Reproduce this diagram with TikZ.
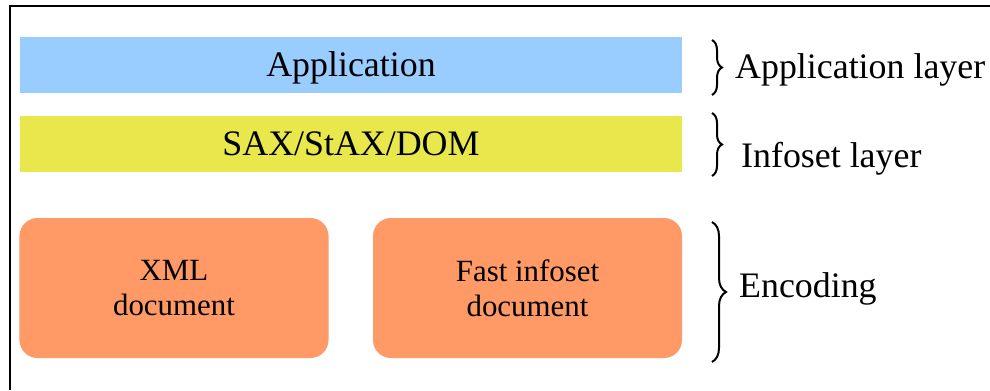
\documentclass[tikz,border=0pt]{standalone}
\usepackage{fontspec}
\newfontfamily\diagfont{Liberation Serif}
\usetikzlibrary{decorations.pathreplacing}

\definecolor{appblue}{HTML}{99CCFF}
\definecolor{infoyellow}{HTML}{E8E84C}
\definecolor{encorange}{HTML}{FF9966}

\tikzset{
  layerbar/.style={draw=none, inner sep=0pt, minimum width=662bp, minimum height=56bp,
    font=\fontsize{36}{40}\diagfont, text height=23bp, text depth=0pt},
  encbox/.style={draw=none, fill=encorange, rounded corners=18bp, inner sep=0pt,
    minimum width=309bp, minimum height=140bp, align=center,
    font=\fontsize{31}{35}\diagfont},
  layerlabel/.style={anchor=base west, inner sep=0pt, font=\fontsize{36}{40}\diagfont},
  layerbrace/.style={draw, line width=2bp, decorate, decoration={brace, amplitude=#1}},
}

\begin{document}
\begin{tikzpicture}[x=1bp, y=-1bp]
  \useasboundingbox (0,0) rectangle (990,390);

  % frame edges
  \draw[line width=2.5bp] (10,390) -- (10,6) -- (990,6);

  % stacked layers
  \node[layerbar, fill=appblue] (app) at (351,65) {Application};
  \node[layerbar, fill=infoyellow] (info) at (351,143.5) {SAX/StAX/DOM};
  \node[encbox] (xml) at (174,288) {XML\\document};
  \node[encbox] (fi) at (527.5,288) {Fast infoset\\document};

  % braces and their labels
  \coordinate (b1t) at (712,40);  \coordinate (b1b) at (712,95);
  \coordinate (b2t) at (712,113); \coordinate (b2b) at (712,176);
  \coordinate (b3t) at (712,222); \coordinate (b3b) at (712,362);
  \draw[layerbrace=10bp] (b1t) -- (b1b);
  \draw[layerbrace=10bp] (b2t) -- (b2b);
  \draw[layerbrace=14bp] (b3t) -- (b3b);

  \node[layerlabel] (applab) at (735,78) {Application layer};
  \node[layerlabel] (infolab) at (741,167) {Infoset layer};
  \node[layerlabel] (enclab) at (739,297) {Encoding};
\end{tikzpicture}
\end{document}
